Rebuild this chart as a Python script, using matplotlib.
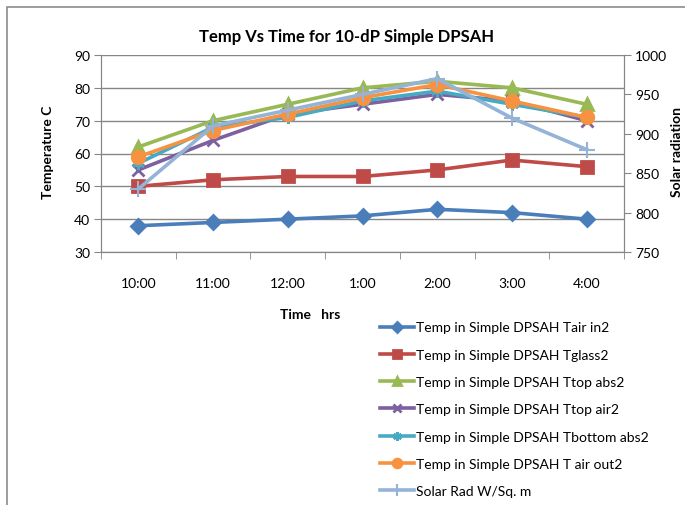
import matplotlib.pyplot as plt
from matplotlib.patches import Rectangle

plt.rcParams['font.family'] = ['Lato', 'DejaVu Sans']

times = ["10:00", "11:00", "12:00", "1:00", "2:00", "3:00", "4:00"]
t_air_in = [38, 39, 40, 41, 43, 42, 40]
t_glass = [50, 52, 53, 53, 55, 58, 56]
t_top_abs = [62, 70, 75, 80, 82, 80, 75]
t_top_air = [55, 64, 72, 75, 78, 76, 70]
t_bottom_abs = [57, 68, 71, 76, 79, 75, 71]
t_air_out = [59, 67, 72, 77, 81, 76, 71]
solar_rad = [830, 910, 930, 950, 970, 920, 880]

series = [
    ("Temp in Simple DPSAH Tair in2", t_air_in, "#4A7EBB", "D", 7),
    ("Temp in Simple DPSAH Tglass2", t_glass, "#BE4B48", "s", 8),
    ("Temp in Simple DPSAH Ttop abs2", t_top_abs, "#98B954", "^", 8),
    ("Temp in Simple DPSAH Ttop air2", t_top_air, "#7D60A0", "x", 8),
    ("Temp in Simple DPSAH Tbottom abs2", t_bottom_abs, "#46AAC5", (6, 2, 0), 9),
    ("Temp in Simple DPSAH T air out2", t_air_out, "#F69240", "o", 9),
]

fig = plt.figure(figsize=(6.85, 5.06), dpi=100)
fig.patches.append(Rectangle((7 / 685, -0.1), 1.2, 1 - 8 / 506 + 0.1, transform=fig.transFigure,
                             fill=False, edgecolor="#8c8c8c", lw=1.2))

ax = fig.add_axes([101 / 685, 1 - 253 / 506, 523 / 685, 197 / 506])
x = list(range(len(times)))
handles = []
for label, vals, color, marker, ms in series:
    h, = ax.plot(x, vals, color=color, lw=2.6, marker=marker, ms=ms, mew=2,
                 mec=color, mfc=color, label=label, zorder=3)
    handles.append(h)

ax.set_xlim(-0.5, len(times) - 0.5)
ax.set_ylim(30, 90)
ax.set_yticks(range(30, 91, 10))
ax.set_xticks(x)
ax.set_xticklabels(times)
ax.set_xticks([i + 0.5 for i in range(-1, len(times))], minor=True)
ax.tick_params(axis="x", which="major", length=0, pad=18, labelsize=10)
ax.tick_params(axis="x", which="minor", length=5, color="#868686")
ax.tick_params(axis="y", length=5, color="#868686", labelsize=10, pad=3)
ax.grid(axis="y", color="#868686", lw=1)
ax.set_axisbelow(True)
for s in ax.spines.values():
    s.set_color("#868686")
ax.spines["top"].set_visible(False)

ax2 = ax.twinx()
h, = ax2.plot(x, solar_rad, color="#95B3D7", lw=2.6, marker="+", ms=12, mew=1.5,
              label="Solar Rad W/Sq. m", zorder=4)
handles.append(h)
ax2.set_ylim(750, 1000)
ax2.set_yticks(range(750, 1001, 50))
ax2.tick_params(axis="y", length=5, color="#868686", labelsize=10, pad=3)
for s in ax2.spines.values():
    s.set_color("#868686")
ax2.spines["top"].set_visible(False)

fig.text(347 / 685, 1 - 37 / 506, "Temp Vs Time for 10-dP Simple DPSAH",
         ha="center", va="center", fontsize=12, fontweight="bold")
fig.text(48 / 685, 1 - 152 / 506, "Temperature C", rotation=90,
         ha="center", va="center", fontsize=10, fontweight="bold")
fig.text(677 / 685, 1 - 152 / 506, "Solar radiation", rotation=90,
         ha="center", va="center", fontsize=10, fontweight="bold")
fig.text(310 / 685, 1 - 315 / 506, "Time   hrs",
         ha="center", va="center", fontsize=10, fontweight="bold")

leg = fig.legend(handles=handles, loc="upper left", bbox_to_anchor=(367 / 685, 1 - 310 / 506),
                 frameon=False, fontsize=10, handlelength=2.5, handletextpad=0.1,
                 labelspacing=1.1, markerscale=0.7)

fig.savefig("out.png", dpi=100)
